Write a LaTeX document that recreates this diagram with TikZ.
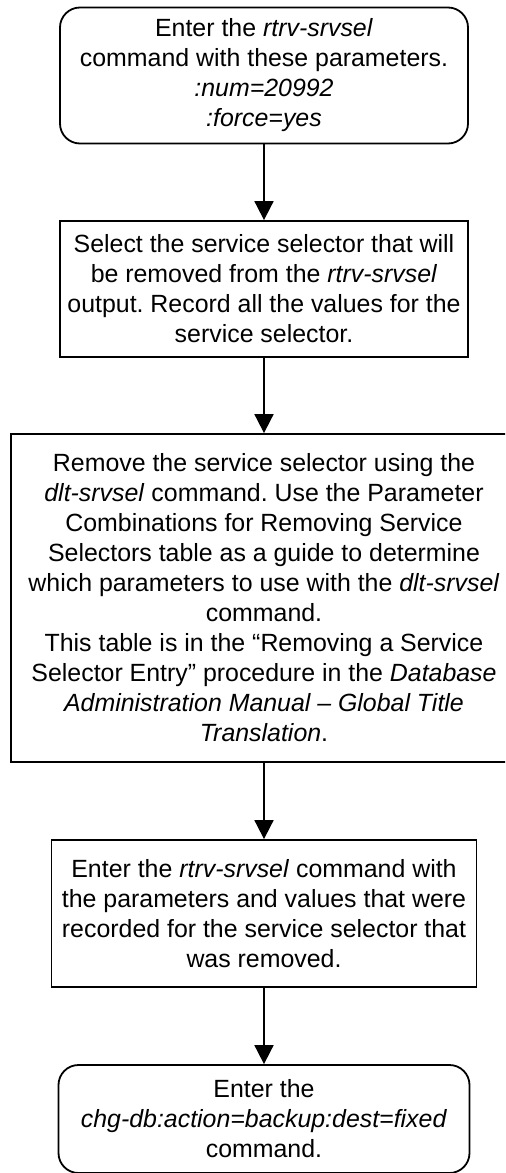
\documentclass[tikz,border=0pt]{standalone}
\usepackage{fontspec}
\setmainfont{Liberation Sans}
\usetikzlibrary{arrows.meta}
\frenchspacing

\begin{document}
\begin{tikzpicture}[
                        x=0.5pt, y=-0.5pt,
                        every node/.style={font=\fontsize{12.45}{15}\selectfont, align=center, inner sep=0pt},
                        stepbox/.style={rectangle, draw, line width=0.9pt},
                        endbox/.style={rectangle, rounded corners=10pt, draw, line width=0.9pt},
                        flowarrow/.style={-{Triangle[length=9.5pt,width=9.5pt]}, line width=0.9pt}
                    ]
                        \clip (0,0) rectangle (505,1173);
                        \node[endbox, minimum width=204pt, minimum height=68pt] (start) at (264,75.5) {Enter the \textit{rtrv-srvsel}\\command with these parameters.\\\textit{:num=20992}\\\textit{:force=yes}};
                        \node[stepbox, minimum width=204pt, minimum height=68pt] (select) at (264,289) {Select the service selector that will\\be removed from the \textit{rtrv-srvsel}\\output. Record all the values for the\\service selector.};
                        \node[stepbox, minimum width=253pt, minimum height=164pt] (remove) at (264,598) {Remove the service selector using the\\\textit{dlt-srvsel} command. Use the Parameter\\Combinations for Removing Service\\Selectors table as a guide to determine\\which parameters to use with the \textit{dlt-srvsel}\\command.\\This table is in the “Removing a Service\\Selector Entry” procedure in the \textit{Database}\\\textit{Administration Manual -- Global Title}\\\textit{Translation}.};
                        \node[stepbox, minimum width=212.5pt, minimum height=73.5pt] (verify) at (264,913.5) {Enter the \textit{rtrv-srvsel} command with\\the parameters and values that were\\recorded for the service selector that\\was removed.};
                        \node[endbox, minimum width=205.5pt, minimum height=54pt] (backup) at (264,1119) {Enter the\\\textit{chg-db:action=backup:dest=fixed}\\command.};
                        \draw[flowarrow] (start) -- (select);
                        \draw[flowarrow] (select) -- (remove);
                        \draw[flowarrow] (remove) -- (verify);
                        \draw[flowarrow] (verify) -- (backup);
                    \end{tikzpicture}
\end{document}
